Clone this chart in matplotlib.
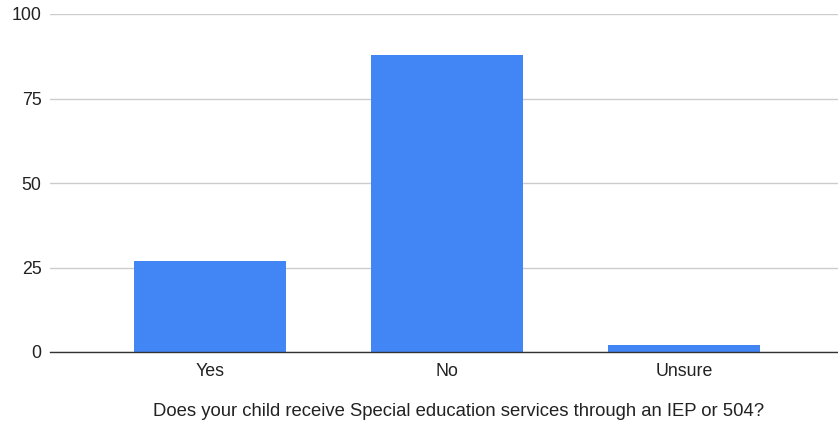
import matplotlib
matplotlib.use("Agg")
import matplotlib.pyplot as plt

categories = ["Yes", "No", "Unsure"]
counts = [27, 88, 2]
y_ticks = [0, 25, 50, 75, 100]
x_title = "Does your child receive Special education services through an IEP or 504?"

plt.rcParams["font.family"] = ["Liberation Sans", "DejaVu Sans"]

fig = plt.figure(figsize=(8.38, 4.24), dpi=100)
ax = fig.add_axes([50 / 838, 1 - 352 / 424, 1 - 50 / 838, (352 - 14) / 424])

x = list(range(len(categories)))
ax.bar(x, counts, width=0.645, color="#4285F4", zorder=3)

ax.set_xlim(-0.675, 2.65)
ax.set_ylim(0, 100)
ax.set_yticks(y_ticks)
ax.set_yticklabels([str(t) for t in y_ticks], fontsize=12.8, color="#222222")
ax.set_xticks(x)
ax.set_xticklabels(categories, fontsize=12.8, color="#222222")
ax.tick_params(axis="both", length=0)
ax.tick_params(axis="y", pad=6)
ax.tick_params(axis="x", pad=8)

ax.grid(axis="y", color="#cccccc", linewidth=1, zorder=0)
for side in ["top", "right", "left"]:
    ax.spines[side].set_visible(False)
ax.spines["bottom"].set_color("#333333")
ax.spines["bottom"].set_linewidth(1)
ax.spines["bottom"].set_zorder(4)

ax.set_xlabel(x_title, fontsize=13.3, color="#222222")
ax.xaxis.set_label_coords((459 - 50) / 788, -(411 - 352) / 338, transform=ax.transAxes)
ax.xaxis.label.set_verticalalignment("center")

fig.savefig("out.png", dpi=100, facecolor="white")
